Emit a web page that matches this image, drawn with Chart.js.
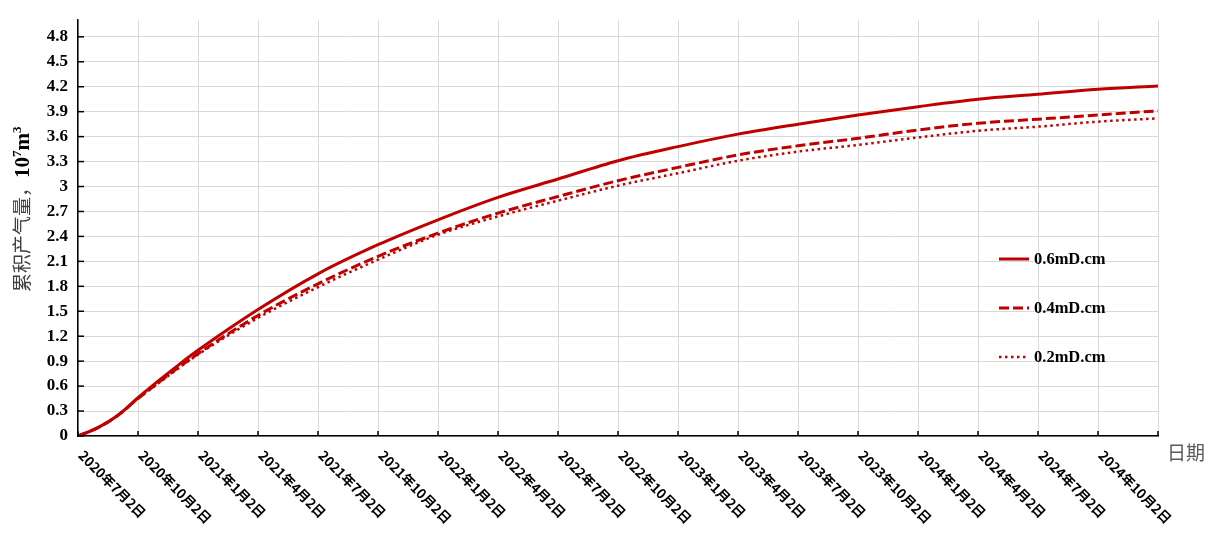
<!DOCTYPE html>
<html>
<head>
<meta charset="utf-8">
<script src="https://cdn.jsdelivr.net/npm/chart.js@4"></script>
<style>
  body { margin: 0; background: #fff; }
</style>
</head>
<body>
<canvas id="gasChart" width="1215" height="539"></canvas>
<script>
// months since 2020-07-02
const months = [0, 1, 2, 3, 4, 5, 6, 9, 12, 15, 18, 21, 24, 27, 30, 33, 36, 39, 42, 45, 48, 51, 54];
// cumulative gas, 10^7 m3
const gas06 = [0, 0.1, 0.25, 0.46, 0.66, 0.85, 1.03, 1.52, 1.95, 2.30, 2.60, 2.87, 3.09, 3.31, 3.48, 3.63, 3.75, 3.86, 3.96, 4.05, 4.11, 4.17, 4.21];
const gas04 = [0, 0.1, 0.25, 0.45, 0.64, 0.82, 0.99, 1.45, 1.83, 2.16, 2.44, 2.68, 2.88, 3.07, 3.23, 3.38, 3.49, 3.58, 3.68, 3.76, 3.81, 3.86, 3.91];
const gas02 = [0, 0.1, 0.25, 0.45, 0.63, 0.81, 0.98, 1.42, 1.79, 2.12, 2.42, 2.64, 2.83, 3.01, 3.16, 3.31, 3.42, 3.50, 3.59, 3.67, 3.72, 3.78, 3.82];
const seriesNames = ['0.6mD.cm', '0.4mD.cm', '0.2mD.cm'];
const xLabels = ['2020年7月2日', '2020年10月2日', '2021年1月2日', '2021年4月2日', '2021年7月2日', '2021年10月2日',
  '2022年1月2日', '2022年4月2日', '2022年7月2日', '2022年10月2日', '2023年1月2日', '2023年4月2日',
  '2023年7月2日', '2023年10月2日', '2024年1月2日', '2024年4月2日', '2024年7月2日', '2024年10月2日'];

const red = '#C00000';
const toPoints = vals => vals.map((v, i) => ({ x: months[i], y: v }));

// extra drawing: rotated date labels, inside tick marks, axis titles, legend
const extras = {
  id: 'extras',
  afterDraw(chart) {
    const ctx = chart.ctx;
    const area = chart.chartArea;
    const xs = chart.scales.x, ys = chart.scales.y;
    ctx.save();

    // inside tick marks
    ctx.strokeStyle = '#000';
    ctx.lineWidth = 1.5;
    xs.ticks.forEach(t => {
      const px = xs.getPixelForValue(t.value);
      ctx.beginPath(); ctx.moveTo(px, area.bottom); ctx.lineTo(px, area.bottom - 5); ctx.stroke();
    });
    ys.ticks.forEach(t => {
      const py = ys.getPixelForValue(t.value);
      ctx.beginPath(); ctx.moveTo(area.left, py); ctx.lineTo(area.left + 6, py); ctx.stroke();
    });

    // date labels, 45 degrees downwards
    ctx.fillStyle = '#000';
    ctx.font = 'bold 13.5px "Noto Sans CJK SC"';
    ctx.textAlign = 'left';
    ctx.textBaseline = 'middle';
    xLabels.forEach((lab, i) => {
      const px = xs.getPixelForValue(i * 3);
      ctx.save();
      ctx.translate(px + 3, area.bottom + 17);
      ctx.rotate(Math.PI / 4);
      ctx.fillText(lab, 0, 0);
      ctx.restore();
    });

    // x title
    ctx.fillStyle = '#595959';
    ctx.font = '19px "Noto Sans CJK SC"';
    ctx.fillText('日期', area.right + 9, area.bottom + 17);

    // y title
    ctx.save();
    ctx.translate(22, 292);
    ctx.rotate(-Math.PI / 2);
    ctx.textBaseline = 'middle';
    ctx.fillStyle = '#404040';
    ctx.font = '19px "Noto Sans CJK SC"';
    const part1 = '累积产气量，';
    ctx.fillText(part1, 0, 0);
    let off = ctx.measureText(part1).width;
    ctx.fillStyle = '#000';
    ctx.font = 'bold 21px "Liberation Serif"';
    ctx.fillText('10', off, 2);
    off += ctx.measureText('10').width;
    ctx.font = 'bold 13px "Liberation Serif"';
    ctx.fillText('7', off, -4);
    off += ctx.measureText('7').width;
    ctx.font = 'bold 21px "Liberation Serif"';
    ctx.fillText('m', off, 2);
    off += ctx.measureText('m').width;
    ctx.font = 'bold 13px "Liberation Serif"';
    ctx.fillText('3', off, -4);
    ctx.restore();

    // legend
    const legY = [259, 308, 357];
    chart.data.datasets.forEach((ds, i) => {
      ctx.strokeStyle = ds.borderColor;
      ctx.lineWidth = ds.borderWidth;
      ctx.setLineDash(ds.borderDash || []);
      ctx.beginPath(); ctx.moveTo(999, legY[i]); ctx.lineTo(1029, legY[i]); ctx.stroke();
      ctx.setLineDash([]);
      ctx.fillStyle = '#000';
      ctx.font = 'bold 16.5px "Liberation Serif"';
      ctx.textBaseline = 'middle';
      ctx.fillText(ds.label, 1034, legY[i] + 1);
    });

    ctx.restore();
  }
};

new Chart(document.getElementById('gasChart').getContext('2d'), {
  type: 'line',
  data: {
    datasets: [
      { label: seriesNames[0], data: toPoints(gas06), borderColor: red, borderWidth: 3, borderDash: [] },
      { label: seriesNames[1], data: toPoints(gas04), borderColor: red, borderWidth: 3, borderDash: [10, 4] },
      { label: seriesNames[2], data: toPoints(gas02), borderColor: red, borderWidth: 2.5, borderDash: [2.5, 3.5] }
    ]
  },
  options: {
    responsive: false,
    animation: false,
    layout: { padding: { left: 0, right: 57, top: 19, bottom: 0 } },
    elements: {
      point: { radius: 0 },
      line: { cubicInterpolationMode: 'monotone', fill: false }
    },
    plugins: { legend: { display: false }, tooltip: { enabled: false } },
    scales: {
      x: {
        type: 'linear',
        min: 0, max: 54,
        ticks: { display: false, stepSize: 3 },
        grid: { color: '#d9d9d9', lineWidth: 1, drawTicks: false },
        border: { color: '#000', width: 1.5 },
        afterFit: s => { s.height = 103; }
      },
      y: {
        min: 0, max: 5.0,
        ticks: {
          stepSize: 0.3,
          padding: 10,
          color: '#000',
          font: { family: '"Liberation Serif"', size: 17, weight: 'bold' },
          callback: v => String(+v.toFixed(1))
        },
        afterBuildTicks: s => { s.ticks = s.ticks.filter(t => t.value < 4.9); },
        grid: { color: '#d9d9d9', lineWidth: 1, drawTicks: false },
        border: { color: '#000', width: 1.5 },
        afterFit: s => { s.width = 78; }
      }
    }
  },
  plugins: [extras]
});
</script>
</body>
</html>
